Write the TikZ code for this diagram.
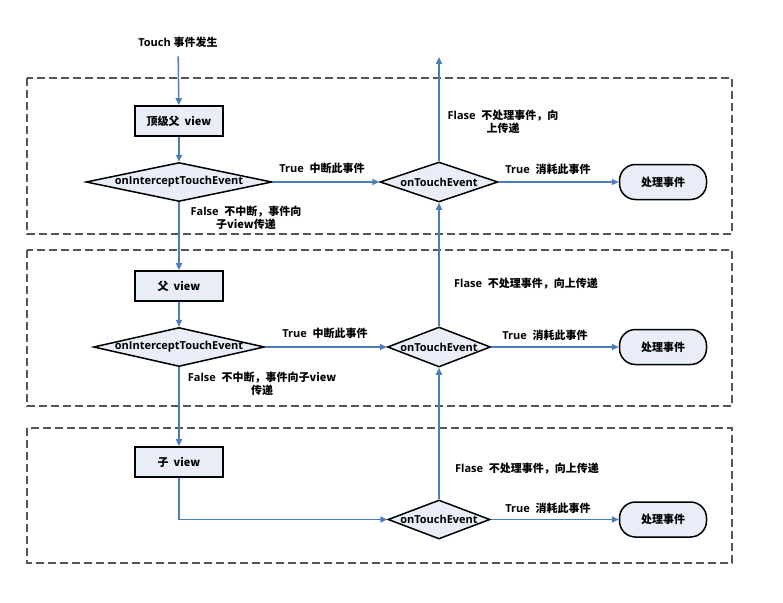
\documentclass[tikz,border=0pt]{standalone}
\usepackage{fontspec}
\setmainfont{Open Sans}
\newfontfamily\cjk{Noto Sans CJK SC}
\usetikzlibrary{arrows.meta,shapes.geometric}
\definecolor{boxfill}{HTML}{E9EDF7}
\definecolor{lineblue}{HTML}{4A7EBB}
\definecolor{framegray}{HTML}{555555}
\begin{document}
\begin{tikzpicture}[x=1pt,y=-1pt,
  font=\bfseries\fontsize{11}{13.5}\selectfont,
  frame/.style={draw=framegray, line width=1.1pt, dash pattern=on 8pt off 4pt},
  procbox/.style={draw=black, line width=1.6pt, fill=boxfill, minimum width=88pt, minimum height=30pt, inner sep=0pt},
  decision/.style={diamond, draw=black, line width=1.5pt, fill=boxfill, inner sep=0pt},
  endbox/.style={draw=black, line width=1.5pt, fill=boxfill, rounded corners=16pt, minimum width=87pt, minimum height=35pt, inner sep=0pt},
  flow/.style={draw=lineblue, line width=1.5pt, -{Triangle[length=7pt,width=6pt]}},
  lbl/.style={inner sep=0pt, align=center}]
\useasboundingbox (0,0) rectangle (783,602);
% frames
\draw[frame] (27,78) rectangle (732,234);
\draw[frame] (27,250) rectangle (732,406);
\draw[frame] (27,428) rectangle (732,563);
% row 1
\node[lbl] (start) at (178,42) {Touch \cjk{事件发生}};
\node[procbox] (top) at (179,121) {\cjk{顶级父}\ \ view};
\node[decision, minimum width=186pt, minimum height=39pt, label={[lbl]center:onInterceptTouchEvent}] (int1) at (179,182) {};
\node[decision, minimum width=118pt, minimum height=40pt, label={[lbl]center:onTouchEvent}] (te1) at (439,182) {};
\node[endbox] (h1) at (663,182) {\cjk{处理事件}};
\coordinate (up) at (439,57);
\node[lbl] (l1) at (322,168) {True\ \ \cjk{中断此事件}};
\node[lbl] (l2) at (246,218) {False\ \ \cjk{不中断，事件向}\\\cjk{子}view\cjk{传递}};
\node[lbl] (l3) at (503,122) {Flase\ \ \cjk{不处理事件，向}\\\cjk{上传递}};
\node[lbl] (l4) at (548,169) {True\ \ \cjk{消耗此事件}};
% row 2
\node[procbox] (par) at (179,286) {\cjk{父}\ \ view};
\node[decision, minimum width=171pt, minimum height=39pt, label={[lbl]center:onInterceptTouchEvent}] (int2) at (179,347) {};
\node[decision, minimum width=103pt, minimum height=40pt, label={[lbl]center:onTouchEvent}] (te2) at (439,347) {};
\node[endbox] (h2) at (663,347) {\cjk{处理事件}};
\node[lbl] (l5) at (325,333) {True\ \ \cjk{中断此事件}};
\node[lbl] (l6) at (262,384) {False\ \ \cjk{不中断，事件向子}view\\\cjk{传递}};
\node[lbl] (l7) at (526,284) {Flase\ \ \cjk{不处理事件，向上传递}};
\node[lbl] (l8) at (545,335) {True\ \ \cjk{消耗此事件}};
% row 3
\node[procbox] (child) at (179,462) {\cjk{子}\ \ view};
\node[decision, minimum width=102pt, minimum height=39pt, label={[lbl]center:onTouchEvent}] (te3) at (439,519.5) {};
\node[endbox] (h3) at (663,519.5) {\cjk{处理事件}};
\node[lbl] (l9) at (527,469) {Flase\ \ \cjk{不处理事件，向上传递}};
\node[lbl] (l10) at (548,508) {True\ \ \cjk{消耗此事件}};
% connectors
\draw[flow, shorten <=9pt] (start) -- (top);
\draw[flow] (top) -- (int1);
\draw[flow] (int1) -- (te1);
\draw[flow] (te1) -- (up);
\draw[flow] (te1) -- (h1);
\draw[flow] (int1) -- (par);
\draw[flow] (par) -- (int2);
\draw[flow] (int2) -- (te2);
\draw[flow] (te2) -- (te1);
\draw[flow] (te2) -- (h2);
\draw[flow] (int2) -- (child);
\draw[flow] (child) |- (te3);
\draw[flow] (te3) -- (te2);
\draw[flow] (te3) -- (h3);
\end{tikzpicture}
\end{document}
